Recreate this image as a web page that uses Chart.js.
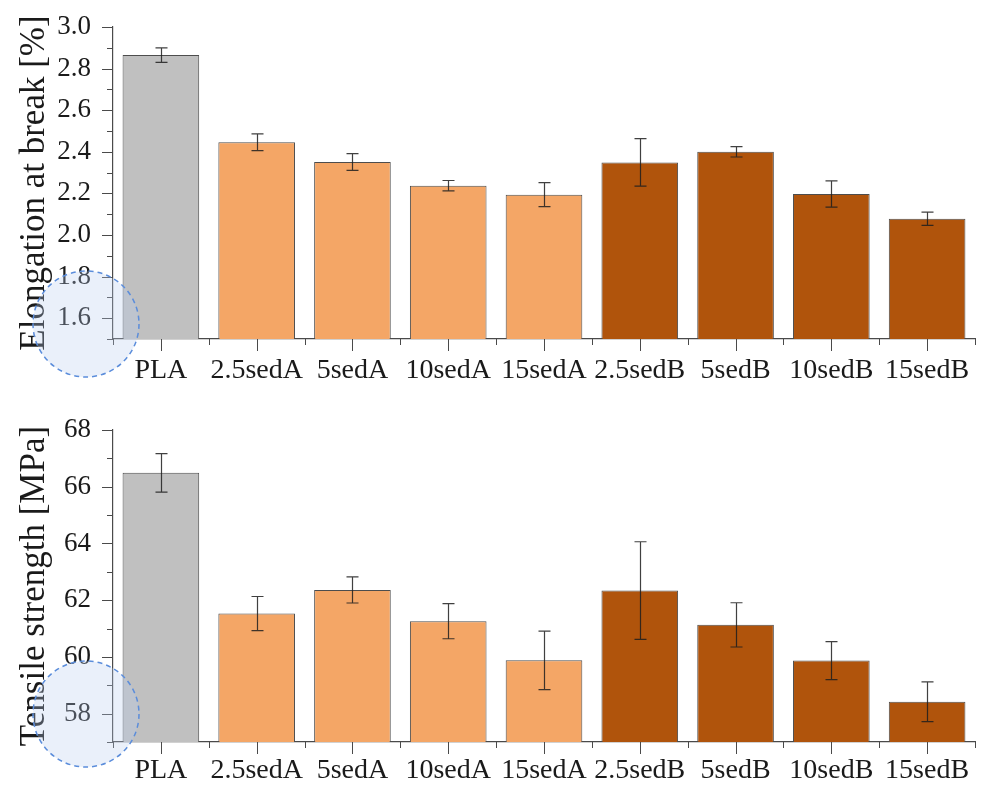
<!DOCTYPE html>
<html><head><meta charset="utf-8">
<script src="https://cdn.jsdelivr.net/npm/chart.js@4/dist/chart.umd.min.js"></script>
<style>
html,body{margin:0;padding:0;background:#fff;}
#wrap{width:982px;height:789px;position:relative;overflow:hidden;}
canvas{position:absolute;left:0;}
</style></head><body>
<div id="wrap">
<canvas id="c1" width="982" height="395" style="top:0"></canvas>
<canvas id="c2" width="982" height="394" style="top:395px"></canvas>
</div>
<script>
// ---- data ----
const categories = ['PLA','2.5sedA','5sedA','10sedA','15sedA','2.5sedB','5sedB','10sedB','15sedB'];
const groups = ['PLA','A','A','A','A','B','B','B','B'];
const elongation = [2.865, 2.446, 2.351, 2.237, 2.194, 2.349, 2.400, 2.197, 2.078];
const elongationErr = [0.035, 0.040, 0.040, 0.025, 0.058, 0.114, 0.025, 0.063, 0.032];
const tensile = [66.49, 61.53, 62.36, 61.26, 59.88, 62.34, 61.13, 59.87, 58.42];
const tensileErr = [0.68, 0.60, 0.46, 0.62, 1.03, 1.72, 0.78, 0.67, 0.70];
const groupColors = { PLA: '#c0c0c0', A: '#f4a666', B: '#b0540c' };

const FONT = "'Liberation Serif', 'Times New Roman', serif";
const TEXT = '#1a1a1a';
const AXIS = '#4a4a4a';

function isMajor(v, major) { const r = v / major; return Math.abs(r - Math.round(r)) < 1e-6; }

const ticksPlugin = {
  id: 'customTicks',
  afterDraw(chart) {
    const ctx = chart.ctx, xs = chart.scales.x, ys = chart.scales.y, a = chart.chartArea;
    const major = chart.options.plugins.customTicks.major;
    ctx.save();
    ctx.strokeStyle = AXIS; ctx.lineWidth = 1;
    ctx.beginPath();
    ys.ticks.forEach(t => {
      const y = Math.round(ys.getPixelForValue(t.value)) + 0.5;
      const len = isMajor(t.value, major) ? 11 : 6;
      ctx.moveTo(a.left - len, y); ctx.lineTo(a.left, y);
    });
    const n = categories.length;
    const step = xs.getPixelForValue(1) - xs.getPixelForValue(0);
    for (let i = 0; i < n; i++) {
      const x = Math.round(xs.getPixelForValue(i)) + 0.5;
      ctx.moveTo(x, a.bottom); ctx.lineTo(x, a.bottom + 12);
    }
    for (let i = 0; i <= n; i++) {
      const x = Math.round(xs.getPixelForValue(0) - step / 2 + i * step) + 0.5;
      ctx.moveTo(x, a.bottom); ctx.lineTo(x, a.bottom + 6);
    }
    ctx.stroke();
    ctx.restore();
  }
};

const errorPlugin = {
  id: 'errorBars',
  afterDatasetsDraw(chart) {
    const ctx = chart.ctx, ys = chart.scales.y;
    const errs = chart.options.plugins.errorBars.errors;
    const vals = chart.data.datasets[0].data;
    const meta = chart.getDatasetMeta(0);
    ctx.save();
    ctx.strokeStyle = 'rgba(30,30,30,0.85)'; ctx.lineWidth = 1.2;
    meta.data.forEach((bar, i) => {
      const x = Math.round(bar.x) + 0.5;
      const yt = ys.getPixelForValue(vals[i] + errs[i]);
      const yb = ys.getPixelForValue(vals[i] - errs[i]);
      ctx.beginPath();
      ctx.moveTo(x, yt); ctx.lineTo(x, yb);
      ctx.moveTo(x - 6, yt); ctx.lineTo(x + 6, yt);
      ctx.moveTo(x - 6, yb); ctx.lineTo(x + 6, yb);
      ctx.stroke();
    });
    ctx.restore();
  }
};

const circlePlugin = {
  id: 'highlightCircle',
  afterDraw(chart) {
    const o = chart.options.plugins.highlightCircle;
    const ctx = chart.ctx;
    ctx.save();
    ctx.beginPath();
    ctx.arc(o.cx, o.cy, o.r, 0, Math.PI * 2);
    ctx.fillStyle = 'rgba(185,205,238,0.3)';
    ctx.fill();
    ctx.setLineDash([5, 4]);
    ctx.strokeStyle = '#5b8ddb';
    ctx.lineWidth = 1.5;
    ctx.stroke();
    ctx.restore();
  }
};

function build(id, values, errors, opt) {
  return new Chart(document.getElementById(id), {
    type: 'bar',
    data: {
      labels: categories,
      datasets: [{
        data: values,
        backgroundColor: groups.map(g => groupColors[g]),
        borderColor: '#4d4d4d',
        borderWidth: 1,
        barPercentage: 0.8,
        categoryPercentage: 1.0
      }]
    },
    options: {
      responsive: false,
      animation: false,
      layout: { padding: { top: opt.padTop, right: 7, left: 0, bottom: 0 } },
      plugins: {
        legend: { display: false },
        tooltip: { enabled: false },
        customTicks: { major: opt.major },
        errorBars: { errors: errors },
        highlightCircle: { cx: 86, cy: opt.circleY, r: 53 }
      },
      scales: {
        x: {
          offset: true,
          grid: { display: true, drawOnChartArea: false, drawTicks: true, tickLength: opt.xPad, tickColor: 'rgba(0,0,0,0)' },
          border: { display: true, color: AXIS, width: 1.2 },
          ticks: { color: TEXT, font: { family: FONT, size: 28 }, padding: 0, maxRotation: 0, autoSkip: false },
          afterFit(s) { s.height = opt.xHeight; }
        },
        y: {
          min: opt.min, max: opt.max,
          grid: { display: true, drawOnChartArea: false, drawTicks: true, tickLength: 22, tickColor: 'rgba(0,0,0,0)' },
          border: { display: true, color: AXIS, width: 1.2 },
          ticks: {
            stepSize: opt.step,
            color: TEXT,
            font: { family: FONT, size: 27 },
            padding: 0,
            autoSkip: false,
            callback: v => isMajor(v, opt.major) ? v.toFixed(opt.decimals) : ''
          },
          title: { display: true, text: opt.title, color: TEXT, font: { family: FONT, size: 35 }, padding: { top: 14, bottom: 0 } },
          afterFit(s) { s.width = 113; }
        }
      }
    },
    plugins: [errorPlugin, ticksPlugin, circlePlugin]
  });
}

build('c1', elongation, elongationErr, {
  min: 1.5, max: 3.0, step: 0.1, major: 0.2, decimals: 1,
  title: 'Elongation at break [%]', padTop: 27, xHeight: 56, xPad: 15, circleY: 324
});
build('c2', tensile, tensileErr, {
  min: 57, max: 68, step: 1, major: 2, decimals: 0,
  title: 'Tensile strength [MPa]', padTop: 35, xHeight: 47, xPad: 12, circleY: 319
});
</script>
</body></html>
